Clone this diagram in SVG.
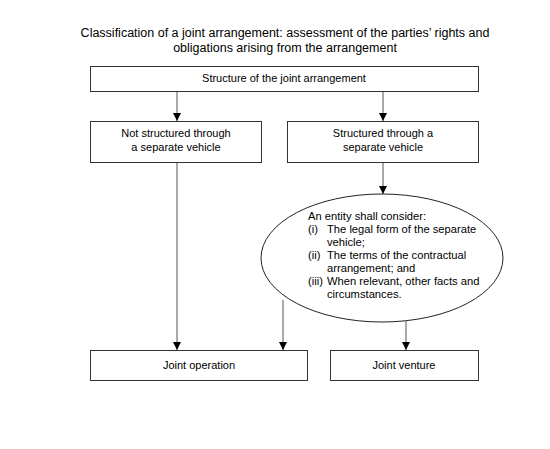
<svg xmlns="http://www.w3.org/2000/svg" width="550" height="449" viewBox="0 0 550 449">
<style>
  text { font-family: "Liberation Sans", Arial, sans-serif; fill: #000; }
  .title { font-size: 12.5px; text-anchor: middle; }
  .lbl { font-size: 11px; text-anchor: middle; }
  .ell { font-size: 11.2px; }
  .box { fill: #fff; stroke: #333; stroke-width: 1; }
  .conn { stroke: #555; stroke-width: 1; fill: none; marker-end: url(#arr); }
</style>
<defs>
  <marker id="arr" markerWidth="10" markerHeight="10" refX="8" refY="4" orient="auto" markerUnits="userSpaceOnUse">
    <path d="M0,0 L8,4 L0,8 Z" fill="#000"/>
  </marker>
</defs>
<rect width="550" height="449" fill="#fff"/>
<g id="title">
  <text class="title" x="285" y="37">Classification of a joint arrangement: assessment of the parties’ rights and</text>
  <text class="title" x="285" y="52">obligations arising from the arrangement</text>
</g>
<g id="connectors">
  <path class="conn" d="M177,92 V121"/>
  <path class="conn" d="M383,92 V121"/>
  <path class="conn" d="M383,163 V194"/>
  <path class="conn" d="M177,163 V350"/>
  <path class="conn" d="M283,300 V350"/>
  <path class="conn" d="M406,321 V350"/>
</g>
<g id="structure">
  <rect class="box" x="90.5" y="66.5" width="388" height="25"/>
  <text class="lbl" x="284" y="82">Structure of the joint arrangement</text>
</g>
<g id="not-structured">
  <rect class="box" x="90.5" y="121.5" width="171" height="41"/>
  <text class="lbl" x="176" y="137">Not structured through</text>
  <text class="lbl" x="176" y="151">a separate vehicle</text>
</g>
<g id="structured">
  <rect class="box" x="287.5" y="121.5" width="191" height="41"/>
  <text class="lbl" x="383" y="137">Structured through a</text>
  <text class="lbl" x="383" y="151">separate vehicle</text>
</g>
<g id="consider">
  <ellipse cx="382" cy="258" rx="121" ry="64" fill="#fff" stroke="#222" stroke-width="1"/>
  <text class="ell" x="308" y="220">An entity shall consider:</text>
  <text class="ell" x="308" y="233">(i)</text>
  <text class="ell" x="327" y="233">The legal form of the separate</text>
  <text class="ell" x="327" y="246">vehicle;</text>
  <text class="ell" x="308" y="259">(ii)</text>
  <text class="ell" x="327" y="259">The terms of the contractual</text>
  <text class="ell" x="327" y="272">arrangement; and</text>
  <text class="ell" x="308" y="285">(iii)</text>
  <text class="ell" x="327" y="285">When relevant, other facts and</text>
  <text class="ell" x="327" y="298">circumstances.</text>
</g>
<g id="joint-operation">
  <rect class="box" x="90.5" y="350.5" width="217" height="30"/>
  <text class="lbl" x="199" y="369">Joint operation</text>
</g>
<g id="joint-venture">
  <rect class="box" x="330.5" y="350.5" width="148" height="30"/>
  <text class="lbl" x="404" y="369">Joint venture</text>
</g>
</svg>
